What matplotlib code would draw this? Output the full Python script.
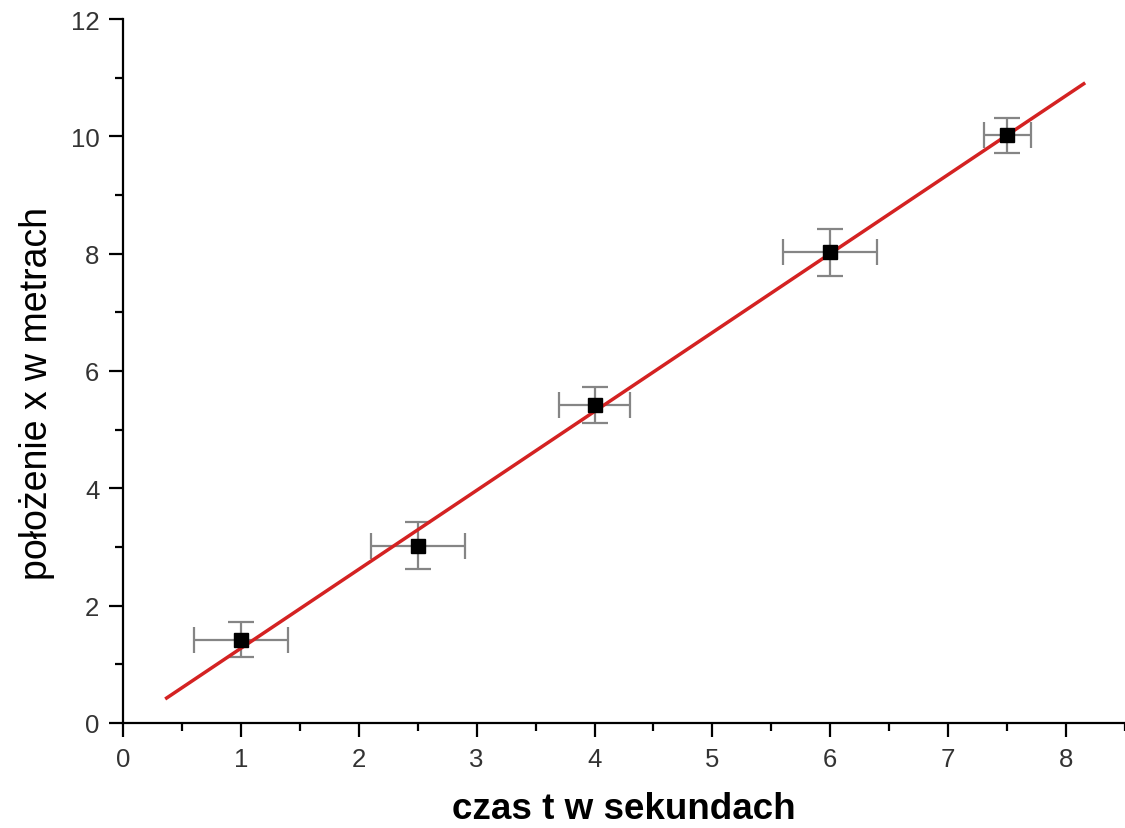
"""
position vs time with a linear fit
"""
import numpy as np
import matplotlib
matplotlib.use('Agg')
import matplotlib.pyplot as plt
from matplotlib.ticker import MultipleLocator

# measured points
t = [1.0, 2.5, 4.0, 6.0, 7.5]
x = [1.42, 3.02, 5.42, 8.02, 10.02]
t_err = [0.4, 0.4, 0.3, 0.4, 0.2]
x_err = [0.3, 0.4, 0.3, 0.4, 0.3]

# range over which the fitted line is drawn
fit_range = [0.37, 8.15]

plt.rcParams['font.family'] = ['Liberation Sans', 'DejaVu Sans']

fig = plt.figure(figsize=(11.25, 8.29), dpi=100)
ax = fig.add_axes([123 / 1125, 105 / 829, 1 - 123 / 1125, 704 / 829])

a, b = np.polyfit(t, x, 1)
tt = np.array(fit_range)
ax.plot(tt, a * tt + b, color='#d42222', lw=2.5, zorder=2)

ax.errorbar(t, x, xerr=t_err, yerr=x_err, fmt='none', ecolor='#858585',
            elinewidth=1.6, capsize=9.5, capthick=1.6, zorder=1)
ax.plot(t, x, 's', color='black', ms=9.5, zorder=3)

ax.set_xlim(0, 8.5)
ax.set_ylim(0, 12)
ax.xaxis.set_major_locator(MultipleLocator(1))
ax.xaxis.set_minor_locator(MultipleLocator(0.5))
ax.yaxis.set_major_locator(MultipleLocator(2))
ax.yaxis.set_minor_locator(MultipleLocator(1))

for s in ['top', 'right']:
    ax.spines[s].set_visible(False)
for s in ['left', 'bottom']:
    ax.spines[s].set_linewidth(1.6)

ax.tick_params(which='major', length=10, width=1.6, labelsize=18.5,
               labelcolor='#333333', pad=7)
ax.tick_params(which='minor', length=6, width=1.6)

ax.set_xlabel('czas t w sekundach', fontsize=26.5, fontweight='bold',
              labelpad=15)
ax.set_ylabel('położenie x w metrach', fontsize=27)
ax.yaxis.set_label_coords(-0.068, 0.47)

fig.savefig('out.png', dpi=100)
